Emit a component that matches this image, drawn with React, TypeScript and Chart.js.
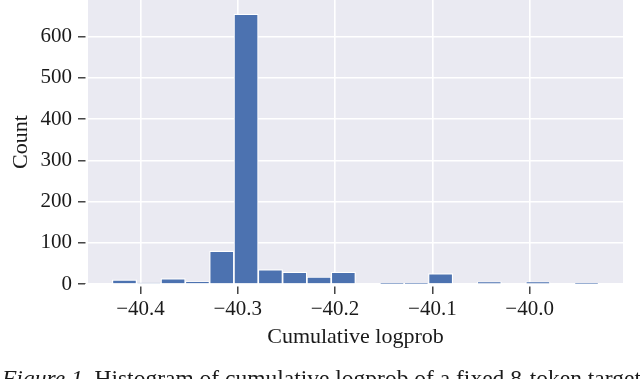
import React, { useEffect, useRef } from "react";
import { Chart, registerables } from "chart.js";

Chart.register(...registerables);

// Histogram bins (centres, in logprob units) and counts
const binCenters = [
  -40.4165, -40.3915, -40.3665, -40.3415, -40.3165, -40.2915, -40.2665, -40.2415, -40.2165, -40.1915,
  -40.1665, -40.1415, -40.1165, -40.0915, -40.0665, -40.0415, -40.0165, -39.9915, -39.9665, -39.9415,
];
const counts = [10, 2, 13, 6, 80, 655, 35, 29, 17, 29, 0, 1, 1, 25, 0, 5, 0, 5, 0, 1];

const xTickValues = [-40.4, -40.3, -40.2, -40.1, -40.0];
const yTickValues = [0, 100, 200, 300, 400, 500, 600];
const xRange = [-40.454, -39.904];
const yRange = [0, 689];

const xTitle = "Cumulative logprob";
const yTitle = "Count";
const captionLead = "Figure 1.";
const captionRest = " Histogram of cumulative logprob of a fixed 8-token target";

const FONT = "'Liberation Serif', 'Times New Roman', serif";

const bgPlugin = {
  id: "bgPlugin",
  beforeDraw(chart: any) {
    const { ctx, chartArea } = chart;
    ctx.save();
    ctx.fillStyle = "#EAEAF2";
    ctx.fillRect(chartArea.left, chartArea.top, chartArea.right - chartArea.left, chartArea.bottom - chartArea.top);
    ctx.restore();
  },
  afterDraw(chart: any) {
    const { ctx, chartArea } = chart;
    ctx.save();
    ctx.fillStyle = "#ffffff";
    ctx.fillRect(chartArea.left - 2.5, chartArea.top, 2.5, chartArea.bottom - chartArea.top + 3);
    ctx.fillRect(chartArea.left - 3, chartArea.bottom, chartArea.right - chartArea.left + 3, 2.5);
    ctx.restore();
  },
};

function fmt(v: number) {
  return v.toFixed(1).replace("-", "\u2212");
}

export default function App() {
  const ref = useRef<HTMLCanvasElement | null>(null);
  useEffect(() => {
    if (!ref.current) return;
    const chart = new Chart(ref.current, {
      type: "bar",
      data: {
        datasets: [
          {
            data: binCenters.map((x, i) => ({ x, y: counts[i] })),
            backgroundColor: "#4C72B0",
            borderColor: "#ffffff",
            borderWidth: 1.2,
            barPercentage: 1,
            categoryPercentage: 1,
          } as any,
        ],
      },
      options: {
        animation: false,
        responsive: false,
        maintainAspectRatio: false,
        layout: { padding: { left: 0, right: 17, top: 0, bottom: 29 } },
        plugins: { legend: { display: false }, tooltip: { enabled: false } },
        scales: {
          x: {
            type: "linear",
            min: xRange[0],
            max: xRange[1],
            offset: false,
            afterBuildTicks: (axis: any) => {
              axis.ticks = xTickValues.map((v) => ({ value: v }));
            },
            afterFit: (axis: any) => {
              axis.height = 66;
              axis.paddingLeft = 0;
              axis.paddingRight = 0;
            },
            grid: {
              color: "#ffffff",
              lineWidth: 1.6,
              tickColor: "#262626",
              tickWidth: 1.3,
              tickLength: 10,
              offset: false,
            },
            border: { display: false },
            ticks: {
              color: "#1a1a1a",
              font: { family: FONT, size: 21 },
              padding: 3,
              maxRotation: 0,
              autoSkip: false,
              callback: (v: any) => fmt(Number(v)),
            },
            title: {
              display: true,
              text: xTitle,
              color: "#1a1a1a",
              font: { family: FONT, size: 22 },
              padding: { top: 0, bottom: 0 },
            },
          },
          y: {
            min: yRange[0],
            max: yRange[1],
            afterBuildTicks: (axis: any) => {
              axis.ticks = yTickValues.map((v) => ({ value: v }));
            },
            afterFit: (axis: any) => {
              axis.width = 88;
              axis.paddingTop = 0;
              axis.paddingBottom = 0;
            },
            grid: {
              color: "#ffffff",
              lineWidth: 1.6,
              tickColor: "#262626",
              tickWidth: 1.3,
              tickLength: 10,
            },
            border: { display: false },
            ticks: {
              color: "#1a1a1a",
              font: { family: FONT, size: 21 },
              padding: 6,
              autoSkip: false,
              callback: (v: any) => String(v),
            },
            title: {
              display: true,
              text: yTitle,
              color: "#1a1a1a",
              font: { family: FONT, size: 22 },
              padding: { top: 8, bottom: 0 },
            },
          },
        },
      },
      plugins: [bgPlugin],
    } as any);
    return () => chart.destroy();
  }, []);

  return (
    <div
      style={{
        position: "fixed",
        left: 0,
        top: 0,
        width: 640,
        height: 379,
        overflow: "hidden",
        background: "#fff",
      }}
    >
      <canvas ref={ref} width={640} height={379} style={{ display: "block", width: 640, height: 379 }} />
      <div
        style={{
          position: "absolute",
          left: 2,
          top: 365,
          whiteSpace: "nowrap",
          fontFamily: FONT,
          fontSize: 23.5,
          color: "#1a1a1a",
        }}
      >
        <i>{captionLead}</i>
        {captionRest}
      </div>
    </div>
  );
}
